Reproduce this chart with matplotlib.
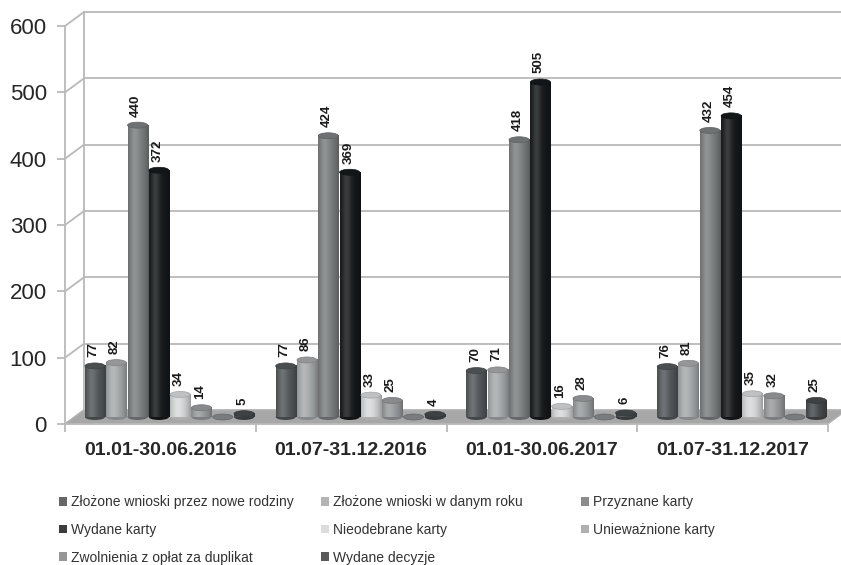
import numpy as np
import matplotlib
matplotlib.use('Agg')
import matplotlib.pyplot as plt
from matplotlib.patches import Ellipse, Polygon, Patch

plt.rcParams['font.family'] = ['Liberation Sans', 'DejaVu Sans']

categories = ['01.01-30.06.2016', '01.07-31.12.2016', '01.01-30.06.2017', '01.07-31.12.2017']
series = ['Złożone wnioski przez nowe rodziny', 'Złożone wnioski w danym roku', 'Przyznane karty',
          'Wydane karty', 'Nieodebrane karty', 'Unieważnione karty',
          'Zwolnienia z opłat za duplikat', 'Wydane decyzje']
nowe_rodziny = [77, 77, 70, 76]
w_danym_roku = [82, 86, 71, 81]
przyznane = [440, 424, 418, 432]
wydane_karty = [372, 369, 505, 454]
nieodebrane = [34, 33, 16, 35]
uniewaznione = [14, 25, 28, 32]
zwolnienia = [0, 0, 0, 0]
decyzje = [5, 4, 6, 25]
values = [nowe_rodziny, w_danym_roku, przyznane, wydane_karty,
          nieodebrane, uniewaznione, zwolnienia, decyzje]

bar_colors = ['#54595b', '#a8abad', '#7d8082', '#16191b', '#d9dadb', '#9a9d9f', '#8a8d8f', '#474b4d']
legend_colors = ['#666666', '#b4b4b4', '#8c8c8c', '#3c3c3c', '#dcdcdc', '#b0b0b0', '#969696', '#5a5a5a']
yticks = [0, 100, 200, 300, 400, 500, 600]

fig = plt.figure(figsize=(8.41, 5.65), dpi=100)
ax = fig.add_axes([65 / 841, 1 - 424 / 565, 776 / 841, 424 / 565])

# depth offset of the back wall (data units)
dx, dy = 0.0996, 21.1
grid_c = '#b9b9b9'

# back wall gridlines + side wall diagonals
for v in yticks:
    ax.plot([dx, 4 + dx], [v + dy, v + dy], color=grid_c, lw=1.3, zorder=0.5)
    ax.plot([0, dx], [v, v + dy], color=grid_c, lw=1.3, zorder=0.5)
ax.plot([dx, dx], [dy, 600 + dy], color=grid_c, lw=1.3, zorder=0.5)

# floor
ax.add_patch(Polygon([(0, 0), (4, 0), (4 + dx, dy), (dx, dy)], closed=True,
                     facecolor='#a7a7a7', edgecolor='#b5b5b5', lw=0.8, zorder=1))

# cylinders
bw = 0.105
eh = 9.0
base = dy / 2
t = np.linspace(0, 1, 40)
hl = 0.16 * np.exp(-((t - 0.3) / 0.22) ** 2)
dk = 0.28 * ((t - 0.42) / 0.58) ** 2
for s, vals in enumerate(values):
    rgb = np.array(matplotlib.colors.to_rgb(bar_colors[s]))
    grad = (rgb[None, :] + (1 - rgb[None, :]) * hl[:, None]) * (1 - dk[:, None])
    grad = np.clip(grad, 0, 1)[None, :, :]
    for g, v in enumerate(vals):
        xc = g + 0.157 + s * 0.1117
        ax.add_patch(Ellipse((xc, base), bw, eh, facecolor=rgb * 0.8, edgecolor='none', zorder=2))
        if v > 0:
            ax.imshow(grad, extent=(xc - bw / 2, xc + bw / 2, base, base + v),
                      aspect='auto', interpolation='bilinear', zorder=3)
        ax.add_patch(Ellipse((xc, base + v), bw, eh, facecolor=rgb * 0.88,
                             edgecolor=rgb * 0.75, lw=0.5, zorder=4))
        if v > 0:
            ax.annotate(str(v), xy=(xc, base + v + eh / 2), xytext=(-1, 4),
                        textcoords='offset points', rotation=90, ha='center', va='bottom',
                        fontsize=9.5, fontweight='bold', color='#1a1a1a', zorder=5)

ax.set_xlim(0, 776 / 190.75)
ax.set_ylim(0, 424 / 0.6633)

for side in ['top', 'right']:
    ax.spines[side].set_visible(False)
for side in ['left', 'bottom']:
    ax.spines[side].set_color(grid_c)
    ax.spines[side].set_linewidth(1.3)
ax.spines['left'].set_bounds(0, 600)
ax.spines['bottom'].set_bounds(0, 4)

ax.set_yticks(yticks)
ax.tick_params(axis='y', length=6, width=1.3, color=grid_c, labelsize=16,
               labelcolor='#262626', pad=7)
ax.set_xticks(range(5))
ax.set_xticklabels([])
ax.tick_params(axis='x', which='major', length=6, width=1.3, color=grid_c)
ax.set_xticks(np.arange(4) + 0.5, minor=True)
ax.set_xticklabels(categories, minor=True, fontsize=14, fontweight='bold', color='#262626')
ax.tick_params(axis='x', which='minor', length=0, pad=13)
ax.patch.set_alpha(0)

# legend in three columns, filled row by row
handles = [Patch(facecolor=c, edgecolor='none') for c in legend_colors]
col_x = [59, 321, 581]
for ci in range(3):
    idx = list(range(ci, 8, 3))
    fig.legend([handles[i] for i in idx], [series[i] for i in idx],
               loc='upper left', bbox_to_anchor=(col_x[ci] / 841, 1 - 495 / 565),
               frameon=False, fontsize=10, labelcolor='#333333',
               handlelength=0.6, handleheight=0.6, handletextpad=0.25,
               labelspacing=1.0, borderpad=0, borderaxespad=0)

fig.savefig('out.png', dpi=100)
